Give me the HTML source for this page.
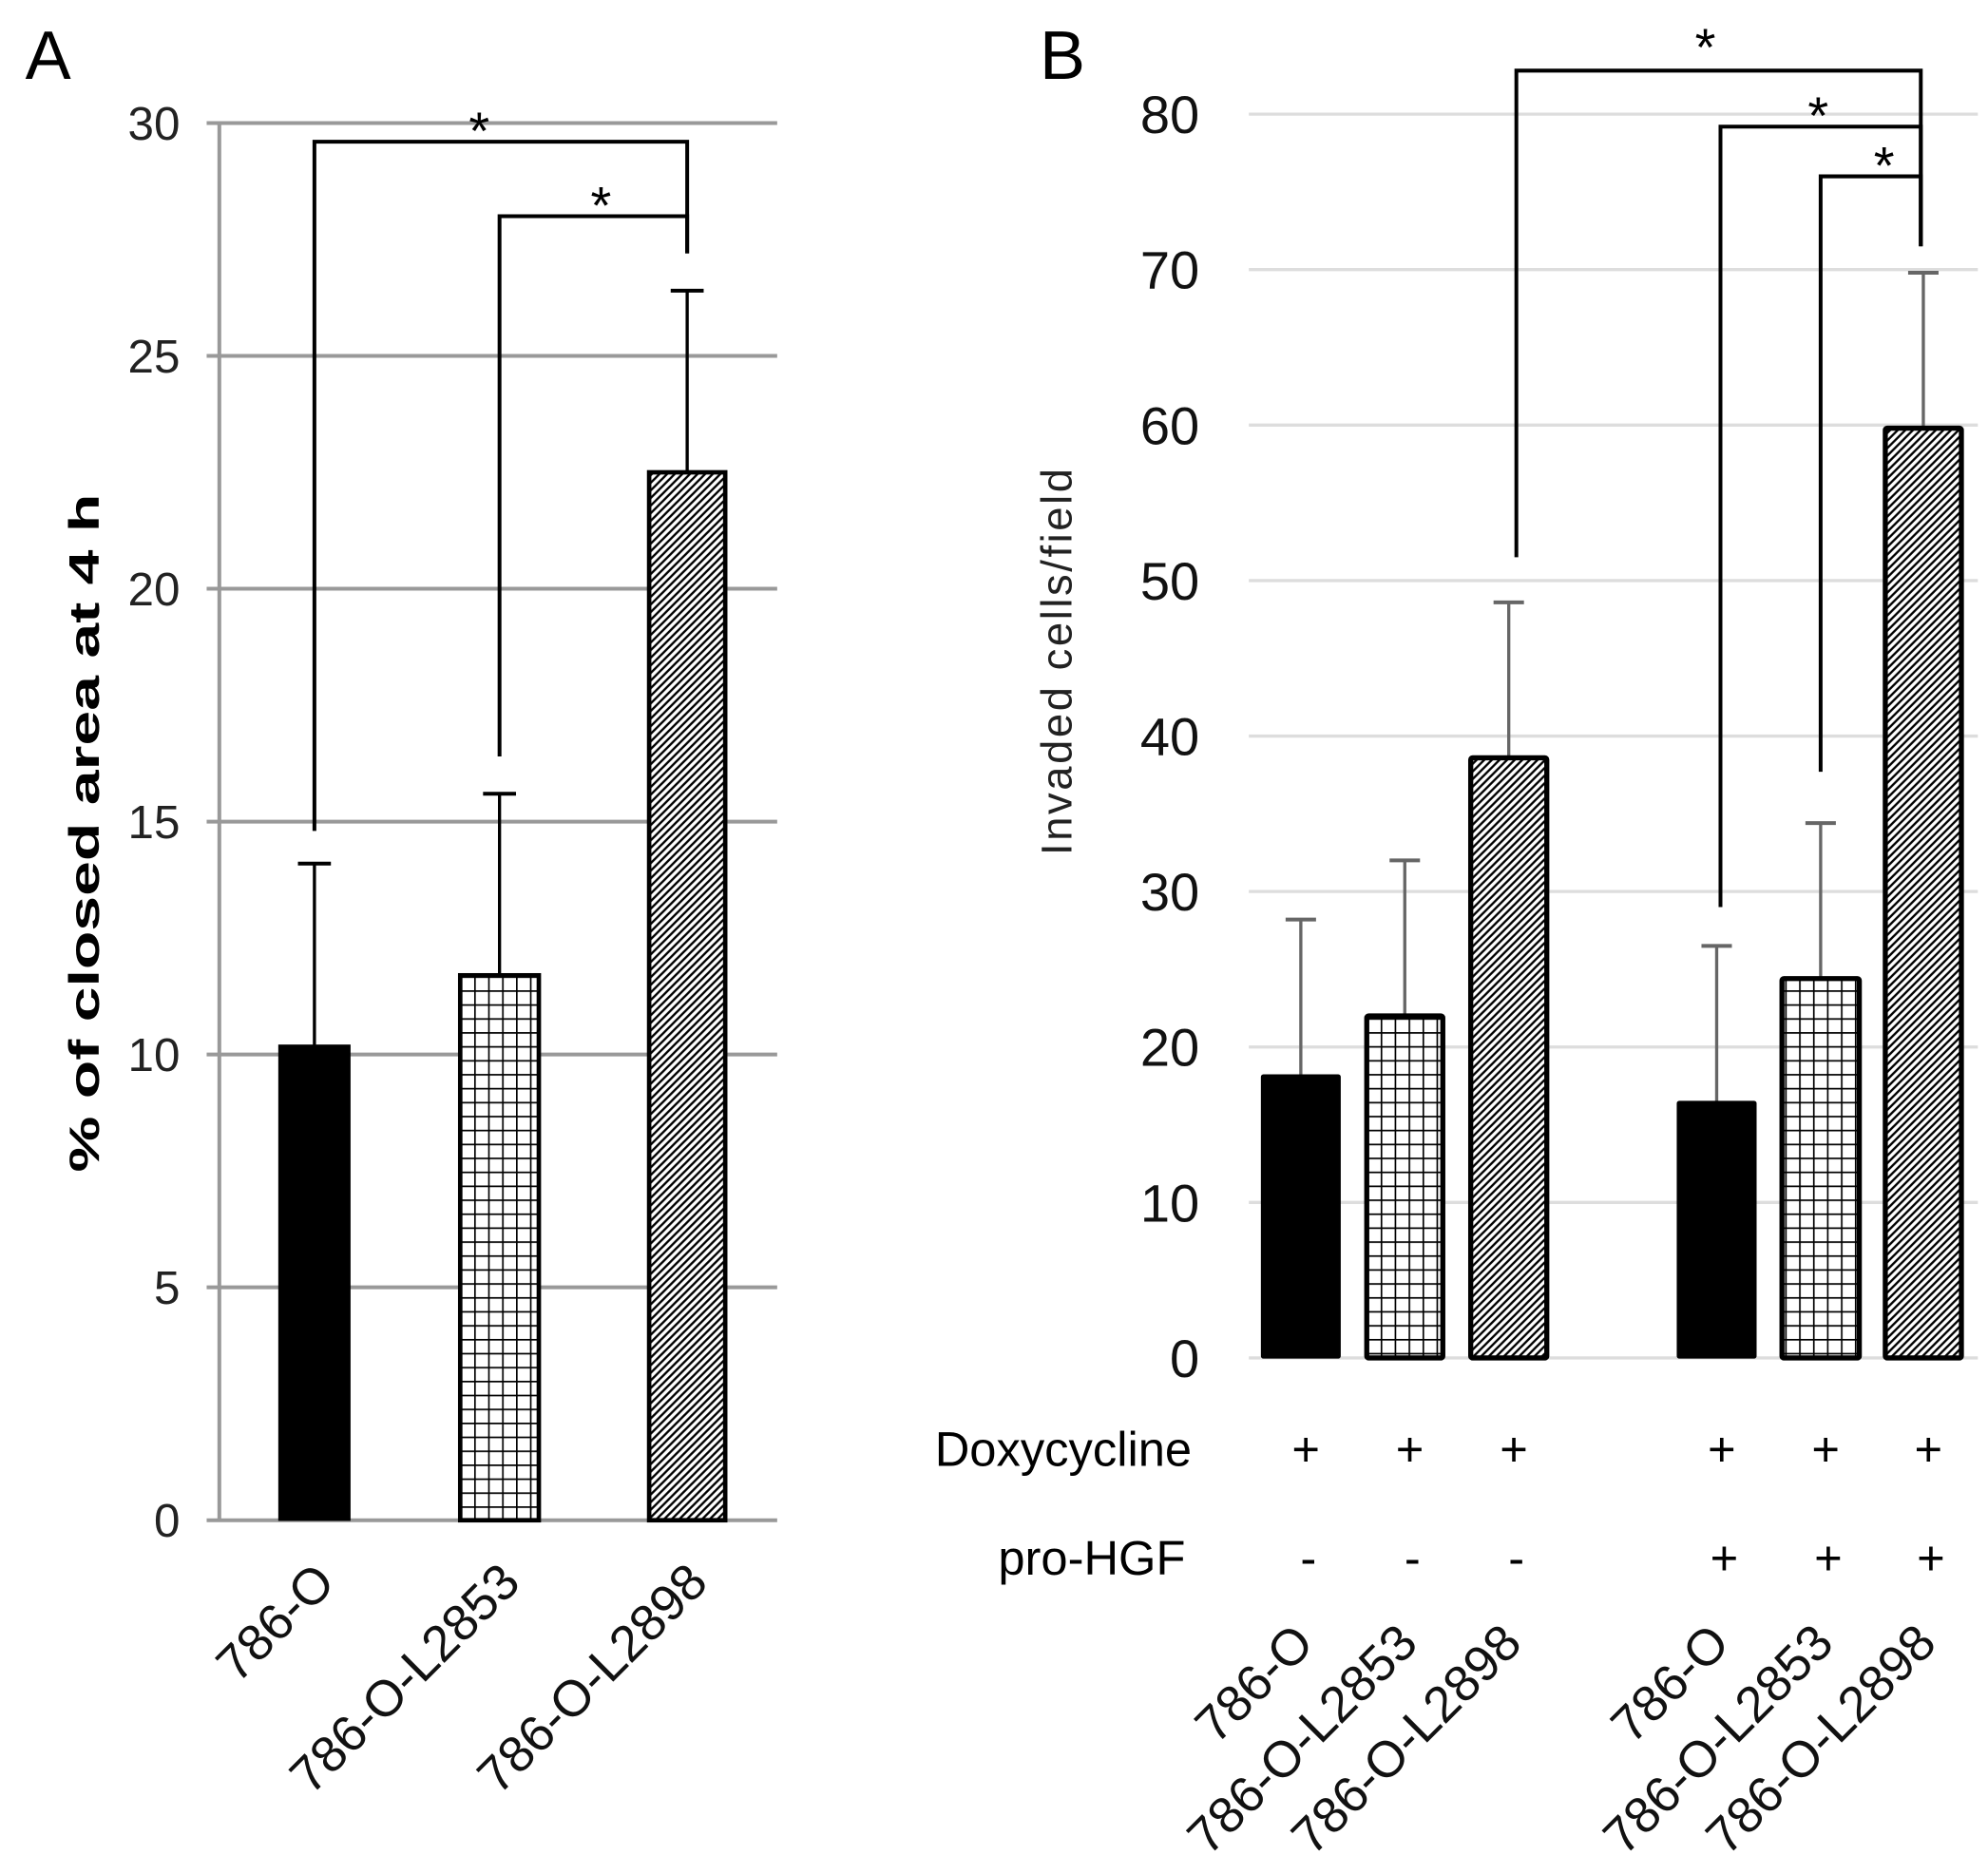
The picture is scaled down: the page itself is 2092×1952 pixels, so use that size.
<!DOCTYPE html>
<html><head><meta charset="utf-8"><style>
html,body{margin:0;padding:0;background:#fff}
svg{display:block}
text{font-family:"Liberation Sans",Arial,sans-serif}
</style></head><body>
<svg id="fig" width="2092" height="1952" viewBox="0 0 1568 1463" xmlns="http://www.w3.org/2000/svg">
<defs>
<pattern id="grid" width="11" height="11" patternUnits="userSpaceOnUse"><rect width="11" height="11" fill="#fff"/><path d="M0 0H11M0 0V11" stroke="#000" stroke-width="2.5"/></pattern>
<pattern id="hatch" width="6" height="6" patternUnits="userSpaceOnUse"><rect width="6" height="6" fill="#fff"/><path d="M-1 7L7 -1M-1 1L1 -1M5 7L7 5" stroke="#000" stroke-width="1.8"/></pattern>
</defs>
<g id="panelA"></g>
<g id="panelB"></g>
</svg>
<script>
// Panel A data
const aCategories = ["786-O","786-O-L2853","786-O-L2898"];
const aValues = [10.2, 11.7, 22.5];
const aErrors = [3.9, 3.9, 3.9];
const aTicks = [0,5,10,15,20,25,30];
// Panel B data
const bCategories = ["786-O","786-O-L2853","786-O-L2898","786-O","786-O-L2853","786-O-L2898"];
const bValues = [18.2, 22.0, 38.6, 16.5, 24.4, 59.8];
const bErrors = [10, 10, 10, 10, 10, 10];
const bTicks = [0,10,20,30,40,50,60,70,80];
const bDoxy = ["+","+","+","+","+","+"];
const bHgf = ["-","-","-","+","+","+"];

const NS="http://www.w3.org/2000/svg";
function mk(parent,tag,attrs,txt){const e=document.createElementNS(NS,tag);for(const k in attrs)e.setAttribute(k,attrs[k]);if(txt!==undefined)e.textContent=txt;parent.appendChild(e);return e;}
const fills=["#000","url(#grid)","url(#hatch)"];

// ---------- Panel A ----------
const A=document.getElementById('panelA');
const ay=v=>1199-(v/30)*(1199-97);
const aX=[248,394,542], aW=[56,62,60];
let t=mk(A,'text',{x:20,y:62,'font-size':54});
t.textContent='A';
aTicks.forEach(v=>{
 let g=mk(A,'line',{x1:163,x2:613,y1:ay(v),y2:ay(v),stroke:'#999','stroke-width':3});
 
 let l=mk(A,'text',{x:142,y:ay(v)+13,'font-size':37,'text-anchor':'end',fill:'#222'},String(v));
 
});
let ax=mk(A,'line',{x1:173,x2:173,y1:ay(30),y2:ay(0),stroke:'#999','stroke-width':3});

let yt=mk(A,'text',{x:0,y:0,'font-size':33,'font-weight':'bold','text-anchor':'middle',textLength:535,lengthAdjust:'spacingAndGlyphs',transform:'translate(78,657) rotate(-90)'},'% of closed  area at  4 h');

aValues.forEach((v,i)=>{
 let e=mk(A,'line',{x1:aX[i],x2:aX[i],y1:ay(v),y2:ay(v+aErrors[i]),stroke:'#000','stroke-width':2.5});
 
 let c=mk(A,'line',{x1:aX[i]-13,x2:aX[i]+13,y1:ay(v+aErrors[i]),y2:ay(v+aErrors[i]),stroke:'#000','stroke-width':3});
 
 let b=mk(A,'rect',{x:aX[i]-aW[i]/2,y:ay(v),width:aW[i],height:ay(0)-ay(v),fill:fills[i],stroke:'#000','stroke-width':i?3.5:1});
 
 let lb=mk(A,'text',{x:0,y:0,'font-size':40,'text-anchor':'end',fill:'#111',transform:`translate(${aX[i]+18},${1250}) rotate(-45)`},aCategories[i]);
 
});
function bracket(P,y,x1,x2,lo1,lo2,top,star,sy,name){
 let p=mk(P,'path',{d:`M${x1} ${y(lo1)}V${y(top)}H${x2}V${y(lo2)}`,fill:'none',stroke:'#000','stroke-width':3});
 
 let s=mk(P,'text',{x:star,y:y(top)-sy,'font-size':42,'text-anchor':'middle'},'*');
 
}
bracket(A,ay,aX[0],aX[2],14.8,27.2,29.6,378,-6,'a-bracket-1');
bracket(A,ay,aX[1],aX[2],16.4,27.2,28.0,474,-6,'a-bracket-2');

// ---------- Panel B ----------
const B=document.getElementById('panelB');
const by=v=>1071-(v/80)*(1071-90);
const bX=[1026,1108,1190,1354,1436,1517], bW=[62,60,60,62,61,60];
t=mk(B,'text',{x:820,y:62,'font-size':54});
t.textContent='B';
bTicks.forEach(v=>{
 let g=mk(B,'line',{x1:985,x2:1560,y1:by(v),y2:by(v),stroke:'#ddd','stroke-width':2.5});
 
 let l=mk(B,'text',{x:946,y:by(v)+15,'font-size':42,'text-anchor':'end',fill:'#111'},String(v));
 
});
yt=mk(B,'text',{x:0,y:0,'font-size':34,'text-anchor':'middle',fill:'#222',textLength:305,lengthAdjust:'spacing',transform:'translate(845,522) rotate(-90)'},'Invaded  cells/field');

bValues.forEach((v,i)=>{
 const f=i%3;
 let e=mk(B,'line',{x1:bX[i],x2:bX[i],y1:by(v),y2:by(v+bErrors[i]),stroke:'#666','stroke-width':2.5});
 
 let c=mk(B,'line',{x1:bX[i]-12,x2:bX[i]+12,y1:by(v+bErrors[i]),y2:by(v+bErrors[i]),stroke:'#666','stroke-width':3});
 
 let b=mk(B,'rect',{x:bX[i]-bW[i]/2,y:by(v),width:bW[i],height:by(0)-by(v),fill:fills[f],stroke:'#000','stroke-width':f?4:1,rx:1.5});
 
 let d=mk(B,'text',{x:bX[i]+4,y:1156,'font-size':38,'text-anchor':'middle'},bDoxy[i]);
 
 let h=mk(B,'text',{x:bX[i]+6,y:1242,'font-size':38,'text-anchor':'middle'},bHgf[i]);
 
 let lb=mk(B,'text',{x:0,y:0,'font-size':40,'text-anchor':'end',fill:'#111',transform:`translate(${bX[i]+12},${1298}) rotate(-45)`},bCategories[i]);
 
});
t=mk(B,'text',{x:940,y:1156,'font-size':38,'text-anchor':'end'},'Doxycycline');

t=mk(B,'text',{x:935,y:1242,'font-size':38,'text-anchor':'end'},'pro-HGF');

bracket(B,by,1196,1515,51.5,71.5,82.8,1345,4,'b-bracket-1');
bracket(B,by,1357,1515,29,71.5,79.2,1434,-6,'b-bracket-2');
bracket(B,by,1436,1515,37.7,71.5,76.0,1486,-6,'b-bracket-3');
</script>
</body></html>
